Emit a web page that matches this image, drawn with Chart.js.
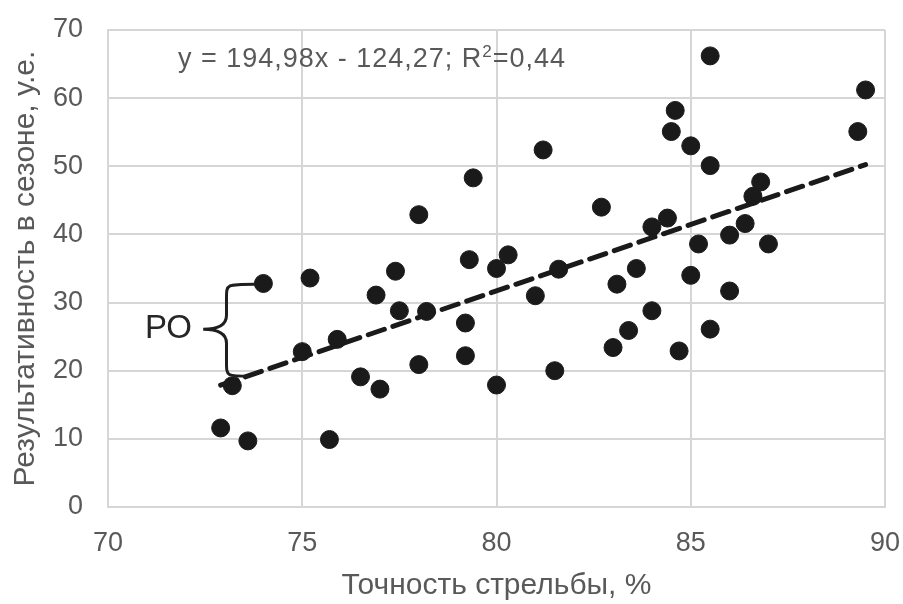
<!DOCTYPE html>
<html lang="ru">
<head>
    <meta charset="UTF-8">
    <title>Точность стрельбы и результативность</title>
    <style>
        html, body {
            margin: 0;
            padding: 0;
            background-color: #ffffff;
        }
        #wrap {
            width: 903px;
            height: 604px;
        }
    </style>
    <script src="https://cdn.jsdelivr.net/npm/chart.js"></script>
</head>
<body>
    <div id="wrap"><canvas id="scatterChart" width="903" height="604"></canvas></div>

    <script>
        // Точность стрельбы, %
        const accuracy = [
            72.9, 73.2, 73.6, 74.0, 75.0, 75.2, 75.7, 75.9, 76.5, 76.9,
            77.0, 77.4, 77.5, 78.0, 78.0, 78.2, 79.2, 79.2, 79.3, 79.4,
            80.0, 80.0, 80.3, 81.0, 81.2, 81.5, 81.6, 82.7, 83.0, 83.1,
            83.4, 83.6, 84.0, 84.0, 84.4, 84.5, 84.6, 84.7, 85.0, 85.0,
            85.2, 85.5, 85.5, 85.5, 86.0, 86.0, 86.4, 86.6, 86.8, 87.0,
            89.3, 89.5
        ];
        // Результативность в сезоне, у.е.
        const performance = [
            11.6, 17.8, 9.7, 32.8, 22.8, 33.6, 9.9, 24.6, 19.1, 31.1,
            17.3, 34.6, 28.8, 42.9, 20.9, 28.7, 27.0, 22.2, 36.3, 48.3,
            35.0, 17.9, 37.0, 31.0, 52.4, 20.0, 34.9, 44.0, 23.4, 32.7,
            25.9, 35.0, 28.8, 41.1, 42.4, 55.1, 58.2, 22.9, 53.0, 34.0,
            38.6, 66.2, 50.1, 26.1, 31.7, 39.9, 41.6, 45.6, 47.7, 38.6,
            55.1, 61.2
        ];
        // линейный тренд: y = 194,98x - 124,27 (x - доля)
        const trendSlope = 194.98;
        const trendIntercept = -124.27;
        const equationText = ['y = 194,98x - 124,27; R', '2', '=0,44'];
        const braceLabel = 'РО';

        const xTicks = [70, 75, 80, 85, 90];
        const yTicks = [0, 10, 20, 30, 40, 50, 60, 70];

        const FONT = '"Liberation Sans", Arial, sans-serif';
        const GREY = '#595959';
        const GRID = '#d6d6d6';

        const points = accuracy.map((x, i) => ({ x: x, y: performance[i] }));
        const xMin = Math.min(...accuracy);
        const xMax = Math.max(...accuracy);
        const trend = [xMin, xMax].map(x => ({ x: x, y: trendSlope * x / 100 + trendIntercept }));

        // надписи поверх графика: уравнение, фигурная скобка и "РО"
        const notes = {
            id: 'notes',
            afterDatasetsDraw(chart) {
                const ctx = chart.ctx;
                const sx = chart.scales.x, sy = chart.scales.y;
                ctx.save();

                // уравнение тренда
                let px = sx.getPixelForValue(71.8);
                const py = sy.getPixelForValue(64.6);
                ctx.fillStyle = GREY;
                ctx.textBaseline = 'alphabetic';
                ctx.textAlign = 'left';
                ctx.letterSpacing = '1px';
                ctx.font = '27px ' + FONT;
                ctx.fillText(equationText[0], px, py);
                px += ctx.measureText(equationText[0]).width;
                ctx.font = '17px ' + FONT;
                ctx.fillText(equationText[1], px, py - 10);
                px += ctx.measureText(equationText[1]).width;
                ctx.font = '27px ' + FONT;
                ctx.fillText(equationText[2], px, py);
                ctx.letterSpacing = '0px';

                // фигурная скобка
                const top = { x: sx.getPixelForValue(73.78), y: sy.getPixelForValue(32.7) };
                const bot = { x: sx.getPixelForValue(73.65), y: sy.getPixelForValue(19.2) };
                const tipX = sx.getPixelForValue(72.45);
                const tipY = (top.y + bot.y) / 2 - 1;
                const mx = sx.getPixelForValue(73.05);
                const r = 14;
                ctx.strokeStyle = '#1f1f1f';
                ctx.lineWidth = 3;
                ctx.beginPath();
                ctx.moveTo(top.x, top.y);
                ctx.bezierCurveTo(mx, top.y, mx, top.y, mx, top.y + r);
                ctx.lineTo(mx, tipY - r);
                ctx.quadraticCurveTo(mx, tipY, tipX, tipY);
                ctx.quadraticCurveTo(mx, tipY, mx, tipY + r);
                ctx.lineTo(mx, bot.y - r);
                ctx.bezierCurveTo(mx, bot.y, mx, bot.y, bot.x, bot.y);
                ctx.stroke();

                // подпись "РО"
                ctx.fillStyle = '#262626';
                ctx.font = '33px ' + FONT;
                ctx.textAlign = 'right';
                ctx.textBaseline = 'middle';
                ctx.fillText(braceLabel, sx.getPixelForValue(72.16), sy.getPixelForValue(26.2));
                ctx.restore();
            }
        };

        new Chart(document.getElementById('scatterChart').getContext('2d'), {
            type: 'scatter',
            data: {
                datasets: [
                    {
                        type: 'line',
                        label: 'Тренд',
                        data: trend,
                        borderColor: '#1a1a1a',
                        borderWidth: 5,
                        borderDash: [17, 9],
                        borderCapStyle: 'round',
                        pointRadius: 0,
                        fill: false,
                        order: 0
                    },
                    {
                        label: 'Игроки',
                        data: points,
                        backgroundColor: '#1a1a1a',
                        borderColor: '#1a1a1a',
                        pointRadius: 9,
                        pointBorderWidth: 1,
                        order: 1
                    }
                ]
            },
            options: {
                responsive: false,
                animation: false,
                layout: { padding: { top: 30, right: 18, left: 0, bottom: 0 } },
                plugins: {
                    legend: { display: false },
                    tooltip: { enabled: false }
                },
                scales: {
                    x: {
                        type: 'linear',
                        min: 70,
                        max: 90,
                        afterBuildTicks: s => { s.ticks = xTicks.map(v => ({ value: v })); },
                        afterFit: s => { s.height = 97; s.paddingLeft = 0; s.paddingRight = 0; },
                        grid: { color: GRID, lineWidth: 2, drawTicks: false },
                        border: { color: GRID, width: 2 },
                        ticks: { color: GREY, font: { family: FONT, size: 27 }, padding: 20, maxRotation: 0 },
                        title: {
                            display: true,
                            text: 'Точность стрельбы, %',
                            color: GREY,
                            font: { family: FONT, size: 30 },
                            padding: { top: 0, bottom: 0 }
                        }
                    },
                    y: {
                        type: 'linear',
                        min: 0,
                        max: 70,
                        afterBuildTicks: s => { s.ticks = yTicks.map(v => ({ value: v })); },
                        afterFit: s => { s.width = 108; s.paddingTop = 0; s.paddingBottom = 0; },
                        grid: { color: GRID, lineWidth: 2, drawTicks: false },
                        border: { color: GRID, width: 2 },
                        ticks: { color: GREY, font: { family: FONT, size: 27 }, padding: 25 },
                        title: {
                            display: true,
                            text: 'Результативность в сезоне, у.е.',
                            color: GREY,
                            font: { family: FONT, size: 30 },
                            padding: { top: 8, bottom: 0 }
                        }
                    }
                }
            },
            plugins: [notes]
        });
    </script>
</body>
</html>
